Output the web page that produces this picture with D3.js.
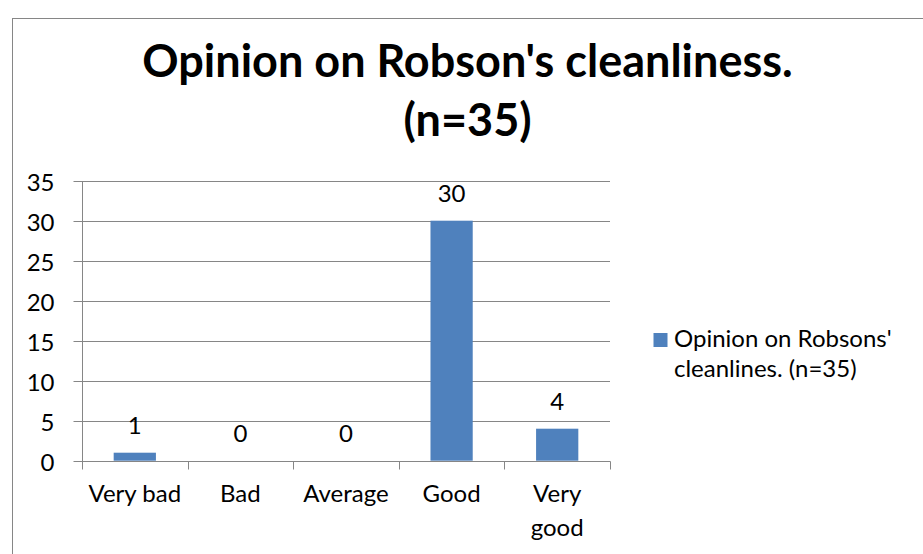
<!DOCTYPE html>
<html>
<head>
<meta charset="utf-8">
<script src="https://cdn.jsdelivr.net/npm/d3@7"></script>
<style>
  html, body { margin: 0; padding: 0; background: #fff; }
  svg { display: block; }
  text { font-family: Lato, "Open Sans", sans-serif; fill: #000; }
</style>
</head>
<body>
<svg id="chart" width="923" height="554"></svg>
<script>
const categories = ["Very bad", "Bad", "Average", "Good", "Very good"];
const values = [1, 0, 0, 30, 4];
const yTicks = [0, 5, 10, 15, 20, 25, 30, 35];
const titleLines = ["Opinion on Robson's cleanliness.", "(n=35)"];
const legendLines = ["Opinion on Robsons'", "cleanlines. (n=35)"];

const W = 923, H = 554;
const svg = d3.select("#chart");
const gridColor = "#868686";
const barColor = "#4F81BD";
const fs = 24;

// outer chart border (left and top visible)
svg.append("rect")
  .attr("x", 12.5).attr("y", 18.5)
  .attr("width", 930).attr("height", 560)
  .attr("fill", "none").attr("stroke", gridColor).attr("stroke-width", 1);

// title
const title = svg.append("text")
  .attr("text-anchor", "middle")
  .attr("font-weight", "bold")
  .attr("font-size", 45);
titleLines.forEach((t, i) => {
  title.append("tspan").attr("x", 467.5).attr("y", 77 + i * 59).text(t);
});

const plot = { left: 82, right: 610, top: 180.7, bottom: 460.7 };

const x = d3.scaleBand().domain(categories).range([plot.left, plot.right]).paddingInner(0.6).paddingOuter(0.3);
const xb = d3.scaleBand().domain(categories).range([plot.left, plot.right]);
const y = d3.scaleLinear().domain([0, 35]).range([plot.bottom, plot.top]);

// gridlines
svg.append("g").selectAll("line").data(yTicks.filter(d => d > 0)).join("line")
  .attr("x1", plot.left).attr("x2", plot.right)
  .attr("y1", d => Math.round(y(d)) + 0.5).attr("y2", d => Math.round(y(d)) + 0.5)
  .attr("stroke", gridColor).attr("stroke-width", 1);

// y axis
const yAxis = svg.append("g").attr("transform", `translate(${plot.left + 0.5},0)`)
  .call(d3.axisLeft(y).tickValues(yTicks).tickSize(9).tickSizeOuter(0).tickPadding(19));
yAxis.select(".domain").attr("stroke", gridColor).attr("d", `M0,${Math.round(y(35)) + 0.5}V${Math.round(y(0)) + 0.5}`);
yAxis.selectAll(".tick line").attr("stroke", gridColor);
yAxis.selectAll(".tick").attr("transform", d => `translate(0,${Math.round(y(d)) + 0.5})`);
yAxis.selectAll(".tick text").attr("font-size", fs).attr("font-family", "Lato").attr("fill", "#000").attr("dy", "0.38em");

// bars
svg.append("g").selectAll("rect").data(values).join("rect")
  .attr("x", (d, i) => x(categories[i]))
  .attr("width", x.bandwidth())
  .attr("y", d => y(d))
  .attr("height", d => y(0) - y(d))
  .attr("fill", barColor);

// x axis
const xAxisY = Math.round(y(0)) + 0.5;
svg.append("line").attr("x1", plot.left).attr("x2", plot.right + 0.5)
  .attr("y1", xAxisY).attr("y2", xAxisY).attr("stroke", gridColor);
const bounds = categories.map(c => xb(c)).concat([plot.right]);
svg.append("g").selectAll("line").data(bounds).join("line")
  .attr("x1", d => Math.round(d) + 0.5).attr("x2", d => Math.round(d) + 0.5)
  .attr("y1", xAxisY).attr("y2", xAxisY + 8)
  .attr("stroke", gridColor);

// category labels with wrap
const catG = svg.append("g");
categories.forEach((c, i) => {
  const cx = xb(c) + xb.bandwidth() / 2;
  const t = catG.append("text").attr("text-anchor", "middle").attr("font-size", fs);
  const tmp = t.append("tspan").attr("x", cx).attr("y", 502).text(c);
  if (tmp.node().getComputedTextLength() > xb.bandwidth() - 6) {
    tmp.remove();
    c.split(" ").forEach((w, j) => {
      t.append("tspan").attr("x", cx).attr("y", 502 + j * 34).text(w);
    });
  }
});

// data labels
svg.append("g").selectAll("text").data(values).join("text")
  .attr("text-anchor", "middle").attr("font-size", fs)
  .attr("x", (d, i) => xb(categories[i]) + xb.bandwidth() / 2)
  .attr("y", d => y(d) - 18.5)
  .text(d => d);

// legend
svg.append("rect").attr("x", 653.5).attr("y", 333).attr("width", 14).attr("height", 14).attr("fill", barColor);
const lt = svg.append("text").attr("font-size", fs);
legendLines.forEach((l, i) => {
  lt.append("tspan").attr("x", 674).attr("y", 347 + i * 30).text(l);
});
</script>
</body>
</html>
